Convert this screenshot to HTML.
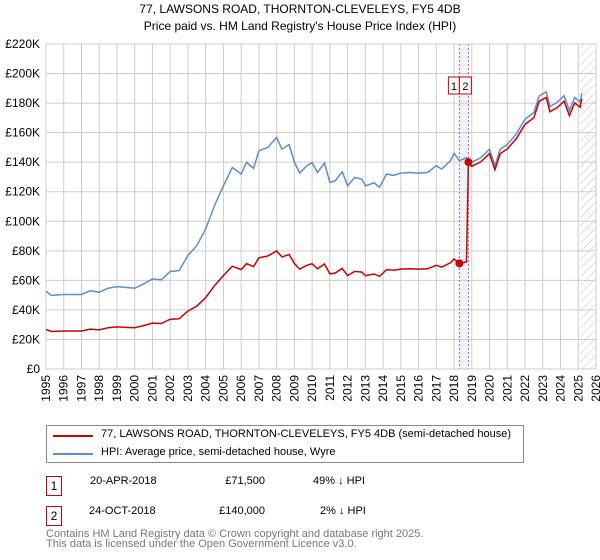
<!DOCTYPE html>
<html><head><meta charset="utf-8"><style>
body{margin:0;width:600px;height:560px;background:#fff;font-family:"Liberation Sans","DejaVu Sans",sans-serif;position:relative;overflow:hidden}
.t{position:absolute;white-space:nowrap;color:#000}
.box{position:absolute;border:1px solid #c00;width:14px;height:18px;text-align:center;font-size:12px;line-height:18px}
</style></head><body>
<div class="t" style="left:0;width:600px;text-align:center;top:2px;font-size:12px">77, LAWSONS ROAD, THORNTON-CLEVELEYS, FY5 4DB</div>
<div class="t" style="left:0;width:600px;text-align:center;top:19px;font-size:12px">Price paid vs. HM Land Registry's House Price Index (HPI)</div>
<svg id="chart" width="600" height="420" style="position:absolute;left:0;top:0">
<defs><pattern id="hatch" width="6" height="6" patternUnits="userSpaceOnUse" patternTransform="rotate(45)"><line x1="0" y1="0" x2="0" y2="6" stroke="#bbb" stroke-width="1"/></pattern></defs>
</svg>
<div style="position:absolute;left:46px;top:425px;width:476px;height:36px;border:1px solid #888">
<div style="position:absolute;left:6px;top:9px;width:40px;height:2px;background:#c00"></div>
<div class="t" style="left:54px;top:2px;font-size:11px">77, LAWSONS ROAD, THORNTON-CLEVELEYS, FY5 4DB (semi-detached house)</div>
<div style="position:absolute;left:6px;top:27px;width:40px;height:2px;background:#5b8dd0"></div>
<div class="t" style="left:54px;top:20px;font-size:11px">HPI: Average price, semi-detached house, Wyre</div>
</div>
<div class="box" style="left:46px;top:476px">1</div>
<div class="t" style="left:90px;top:475px;font-size:11px">20-APR-2018</div>
<div class="t" style="left:205px;width:60px;text-align:right;top:475px;font-size:11px">£71,500</div>
<div class="t" style="left:313px;top:475px;font-size:11px">49% ↓ HPI</div>
<div class="box" style="left:46px;top:506px">2</div>
<div class="t" style="left:89px;top:505px;font-size:11px">24-OCT-2018</div>
<div class="t" style="left:195px;width:70px;text-align:right;top:505px;font-size:11px">£140,000</div>
<div class="t" style="left:320px;top:505px;font-size:11px">2% ↓ HPI</div>
<div class="t" style="left:46px;top:529px;font-size:11px;color:#777;line-height:10px">Contains HM Land Registry data © Crown copyright and database right 2025.<br>This data is licensed under the Open Government Licence v3.0.</div>
<script>
const hpiYears=[1995,1995.3,1996,1997,1997.5,1998,1998.5,1999,2000,2000.5,2001,2001.5,2002,2002.5,2003,2003.5,2004,2004.5,2005,2005.5,2006,2006.3,2006.7,2007,2007.5,2008,2008.3,2008.7,2009,2009.3,2009.7,2010,2010.3,2010.7,2011,2011.3,2011.7,2012,2012.4,2012.8,2013,2013.5,2013.8,2014.2,2014.6,2015,2015.5,2016,2016.5,2017,2017.3,2017.8,2018,2018.3,2018.7,2019,2019.5,2020,2020.3,2020.6,2021,2021.5,2022,2022.5,2022.8,2023.2,2023.4,2023.8,2024.2,2024.5,2024.8,2025.1,2025.2];
const hpiValues=[52.5,49.8,50.4,50.4,53,52,54.7,55.8,54.7,57.6,61,60.3,66,66.6,76.8,83.5,94.8,110.6,124,136.4,132,139.9,135.8,147.7,150,156.7,148.8,152,140,132.6,137.6,139.8,133,139.4,126.3,127.4,133.5,124,129.7,128.6,124,126,123,132,131,132.6,133,132.6,133,137.6,135.3,141,146,141,143,140,143,148.8,137.6,148.8,152,159,169,173.6,184.9,187.6,177.7,180.4,185,175,183.8,180.8,186.7];
const priceYears=[1995,1995.3,1996,1997,1997.5,1998,1998.5,1999,2000,2000.5,2001,2001.5,2002,2002.5,2003,2003.5,2004,2004.5,2005,2005.5,2006,2006.3,2006.7,2007,2007.5,2008,2008.3,2008.7,2009,2009.3,2009.7,2010,2010.3,2010.7,2011,2011.3,2011.7,2012,2012.4,2012.8,2013,2013.5,2013.8,2014.2,2014.6,2015,2015.5,2016,2016.5,2017,2017.3,2017.8,2018,2018.3,2018.7,2018.81,2019,2019.5,2020,2020.3,2020.6,2021,2021.5,2022,2022.5,2022.8,2023.2,2023.4,2023.8,2024.2,2024.5,2024.8,2025.1,2025.2];
const priceValues=[26.8,25.4,25.7,25.7,27.0,26.5,27.9,28.5,27.9,29.4,31.1,30.8,33.7,34.0,39.2,42.6,48.3,56.4,63.2,69.6,67.3,71.3,69.3,75.3,76.5,79.9,75.9,77.5,71.4,67.6,70.2,71.3,67.8,71.1,64.4,65.0,68.1,63.2,66.1,65.6,63.2,64.3,62.7,67.3,66.8,67.6,67.8,67.6,67.8,70.2,69.0,71.9,74.5,71.5,72.5,140,137.2,140.2,145.8,134.8,145.8,149,155.8,165.6,170.1,181.2,183.8,174.1,176.8,181.3,171.5,180.1,177.2,183];
const saleYears=[2018.3,2018.81];
const saleValues=[71.5,140];
const saleLabels=["1","2"];
const yTicks=[0,20,40,60,80,100,120,140,160,180,200,220];
const xTicks=[1995,1996,1997,1998,1999,2000,2001,2002,2003,2004,2005,2006,2007,2008,2009,2010,2011,2012,2013,2014,2015,2016,2017,2018,2019,2020,2021,2022,2023,2024,2025,2026];
const L=46,R=596,T=44,B=369;
const X=y=>L+(y-1995)/31*(R-L);
const Y=v=>B-v/220*(B-T);
const svg=document.getElementById('chart');const NS='http://www.w3.org/2000/svg';
function mk(tag,at){const e=document.createElementNS(NS,tag);for(const k in at)e.setAttribute(k,at[k]);svg.appendChild(e);return e;}
let e=mk('rect',{x:X(2018.3),y:T,width:X(2018.81)-X(2018.3),height:B-T,fill:'#eef3fb'});


e=mk('rect',{x:X(2025.1),y:T,width:R-X(2025.1),height:B-T,fill:'url(#hatch)'});


yTicks.forEach(v=>{
 let g=mk('line',{x1:L,x2:R,y1:Y(v),y2:Y(v),stroke:'#ccc'});
 
 
 let t=mk('text',{x:40,y:Y(v)+4,'text-anchor':'end','font-size':12,'font-family':'Liberation Sans, sans-serif'});t.textContent='£'+(v?v+'K':'0');
 
 
});
xTicks.forEach(y=>{
 let g=mk('line',{x1:X(y),x2:X(y),y1:T,y2:B,stroke:'#ccc'});
 
 
 let t=mk('text',{x:0,y:0,'text-anchor':'end','font-size':12,'font-family':'Liberation Sans, sans-serif',transform:`translate(${X(y)+4},375) rotate(-90)`});t.textContent=y;
 
 
});
saleYears.forEach(y=>{
 let g=mk('line',{x1:X(y),x2:X(y),y1:T,y2:B,stroke:'#e55','stroke-dasharray':'2,2'});
 
 
});
e=mk('rect',{x:L,y:T,width:R-L,height:B-T,fill:'none',stroke:'#ccc'});


function path(xs,vs,col,name){
 const p=mk('path',{d:xs.map((x,i)=>(i?'L':'M')+X(x).toFixed(1)+','+Y(vs[i]).toFixed(1)).join(''),fill:'none',stroke:col,'stroke-width':1.5});
 
 
}
path(hpiYears,hpiValues,'#5b8dd0','hpi-line');
path(priceYears,priceValues,'#c00','price-paid-line');
const bx0=X(saleYears[0]);
saleYears.forEach((y,i)=>{
 let c=mk('circle',{cx:X(y),cy:Y(saleValues[i]),r:4,fill:'#c00'});
 
 
 let left=i?bx0:bx0-11;
 let bx=mk('rect',{x:left,y:77,width:i?12:11,height:17,fill:'#fff',stroke:'#c00'});
 
 
 let t=mk('text',{x:left+(i?6:5.5),y:90,'text-anchor':'middle','font-size':11,'font-family':'Liberation Sans, sans-serif'});t.textContent=saleLabels[i];
 
 
});
</script>
</body></html>
